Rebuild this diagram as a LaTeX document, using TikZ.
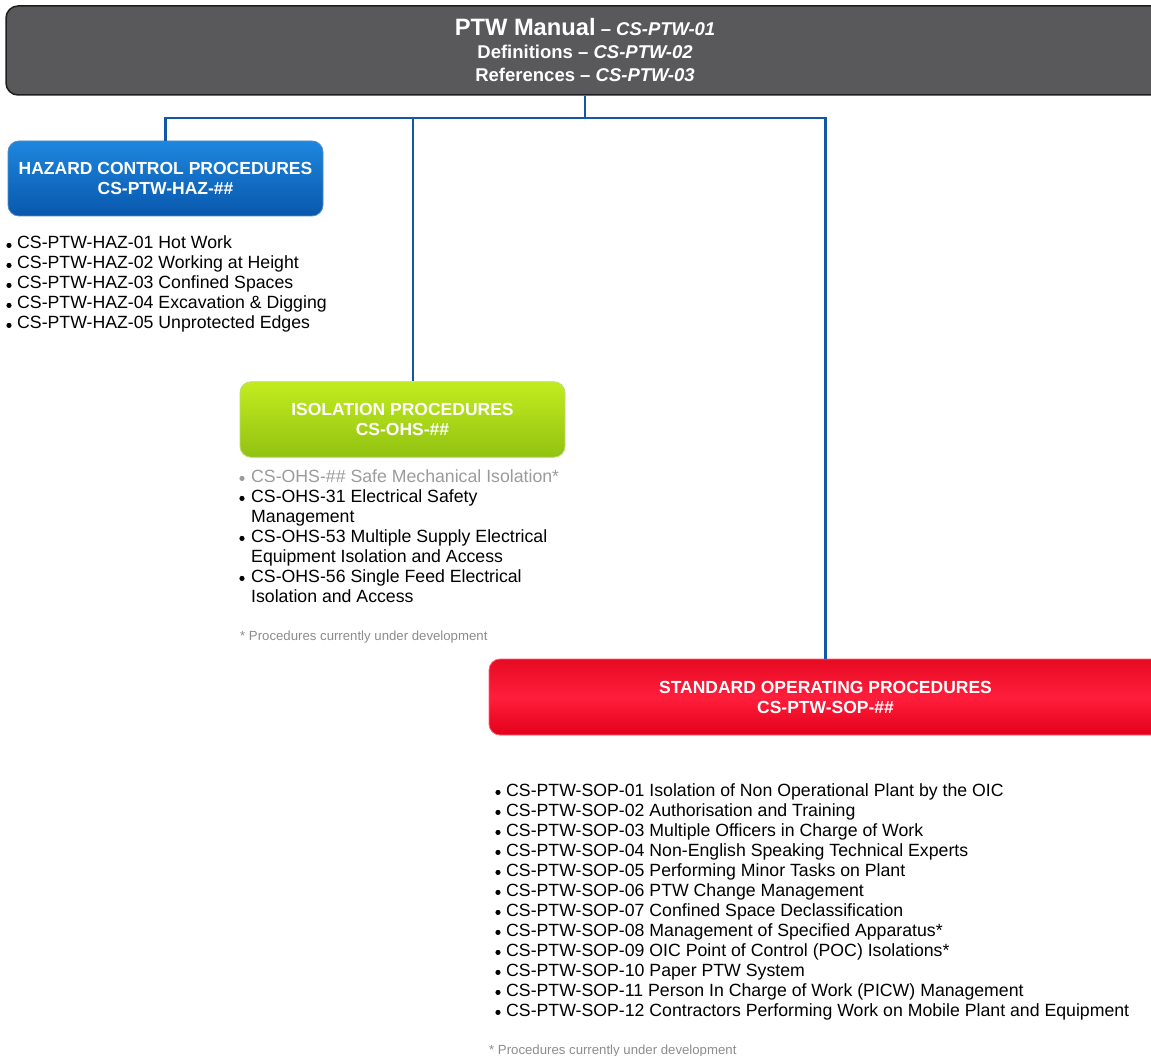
\documentclass[tikz,border=0pt]{standalone}
\usepackage{fontspec}
\setmainfont{Liberation Sans}
\definecolor{conncol}{RGB}{18,88,166}
\definecolor{topfill}{RGB}{89,89,91}
\definecolor{topline}{RGB}{30,30,30}
\definecolor{hazT}{RGB}{30,134,222}
\definecolor{hazB}{RGB}{8,88,172}
\definecolor{isoT}{RGB}{194,236,31}
\definecolor{isoB}{RGB}{146,194,18}
\definecolor{sopT}{RGB}{230,10,34}
\definecolor{sopM}{RGB}{255,30,60}
\definecolor{sopB}{RGB}{226,0,26}
\definecolor{devgray}{RGB}{155,155,155}
\definecolor{notegray}{RGB}{140,140,140}
\tikzset{
  conn/.style={draw=conncol, line width=2.6pt},
  hdr/.style={text=white, font=\bfseries\fontsize{17.5}{20}\selectfont, align=center, inner sep=0, rounded corners=11pt, line width=0.8pt},
  item/.style={anchor=base west, inner sep=0, font=\fontsize{17.7}{20}\selectfont},
  note/.style={anchor=base west, inner sep=0, text=notegray, font=\fontsize{13.2}{15}\selectfont},
  toptext/.style={anchor=base, text=white, inner sep=0},
  bullet/.style={radius=2.6pt},
}
\begin{document}
\begin{tikzpicture}[x=1pt,y=-1pt]
\useasboundingbox (0,0) rectangle (1151,1056);
% top box
\node[draw=topline, line width=1.5pt, fill=topfill, rounded corners=12pt, minimum width=1158pt, minimum height=89pt, inner sep=0] (ptw) at (585,50.5) {};
\node[toptext] (t1) at (585,36) {{\bfseries\fontsize{23.7}{26}\selectfont PTW Manual}{\bfseries\fontsize{18.5}{22}\selectfont{} – \itshape CS-PTW-01}};
\node[toptext] (t2) at (585,59) {\bfseries\fontsize{18.5}{22}\selectfont Definitions – \itshape CS-PTW-02};
\node[toptext] (t3) at (585,81.5) {\bfseries\fontsize{18.5}{22}\selectfont References – \itshape CS-PTW-03};
% category boxes
\node[hdr, draw=hazB!70!white, top color=hazT, bottom color=hazB, minimum width=315pt, minimum height=75pt] (haz) at (165.5,178.5) {HAZARD CONTROL PROCEDURES\\CS-PTW-HAZ-\#\#};
\node[hdr, draw=isoB!60!white, top color=isoT, bottom color=isoB, minimum width=325pt, minimum height=75.5pt] (iso) at (402.5,419.5) {ISOLATION PROCEDURES\\CS-OHS-\#\#};
\node[hdr, draw=sopM!70!white, top color=sopT, bottom color=sopB, middle color=sopM, minimum width=673pt, minimum height=76pt] (sop) at (825.5,697) {STANDARD OPERATING PROCEDURES\\CS-PTW-SOP-\#\#};
% connectors
\coordinate (bus) at (413,118);
\draw[conn] (ptw.south) -- (ptw.south |- bus);
\draw[conn] (haz.north) |- (bus -| sop.north) -- (sop.north);
\draw[conn] (bus) -- (bus |- iso.north);
% hazard list
\foreach \t [count=\i] in {CS-PTW-HAZ-01 Hot Work, CS-PTW-HAZ-02 Working at Height, CS-PTW-HAZ-03 Confined Spaces, CS-PTW-HAZ-04 Excavation \& Digging, CS-PTW-HAZ-05 Unprotected Edges}{
  \node[item] (haz\i) at (17,229+20*\i) {\t};
  \fill[bullet] (haz\i.base west) ++(-8,-3.6) circle;
}
% isolation list
\node[item, text=devgray] (iso1) at (251,482) {CS-OHS-\#\# Safe Mechanical Isolation*};
\fill[devgray, bullet] (iso1.base west) ++(-9,-3.6) circle;
\node[item] (iso2) at (251,502) {CS-OHS-31 Electrical Safety};
\fill[bullet] (iso2.base west) ++(-9,-3.6) circle;
\node[item] (iso2b) at (251,522) {Management};
\node[item] (iso3) at (251,542) {CS-OHS-53 Multiple Supply Electrical};
\fill[bullet] (iso3.base west) ++(-9,-3.6) circle;
\node[item] (iso3b) at (251,562) {Equipment Isolation and Access};
\node[item] (iso4) at (251,582) {CS-OHS-56 Single Feed Electrical};
\fill[bullet] (iso4.base west) ++(-9,-3.6) circle;
\node[item] (iso4b) at (251,602) {Isolation and Access};
\node[note] (isonote) at (240,640) {* Procedures currently under development};
% SOP list
\foreach \t [count=\i] in {CS-PTW-SOP-01 Isolation of Non Operational Plant by the OIC, CS-PTW-SOP-02 Authorisation and Training, CS-PTW-SOP-03 Multiple Officers in Charge of Work, CS-PTW-SOP-04 Non-English Speaking Technical Experts, CS-PTW-SOP-05 Performing Minor Tasks on Plant, CS-PTW-SOP-06 PTW Change Management, CS-PTW-SOP-07 Confined Space Declassification, CS-PTW-SOP-08 Management of Specified Apparatus*, CS-PTW-SOP-09 OIC Point of Control (POC) Isolations*, CS-PTW-SOP-10 Paper PTW System, CS-PTW-SOP-11 Person In Charge of Work (PICW) Management, CS-PTW-SOP-12 Contractors Performing Work on Mobile Plant and Equipment}{
  \node[item] (sop\i) at (506,776+20*\i) {\t};
  \fill[bullet] (sop\i.base west) ++(-8,-3.6) circle;
}
\node[note] (sopnote) at (489,1054) {* Procedures currently under development};
\end{tikzpicture}
\end{document}
